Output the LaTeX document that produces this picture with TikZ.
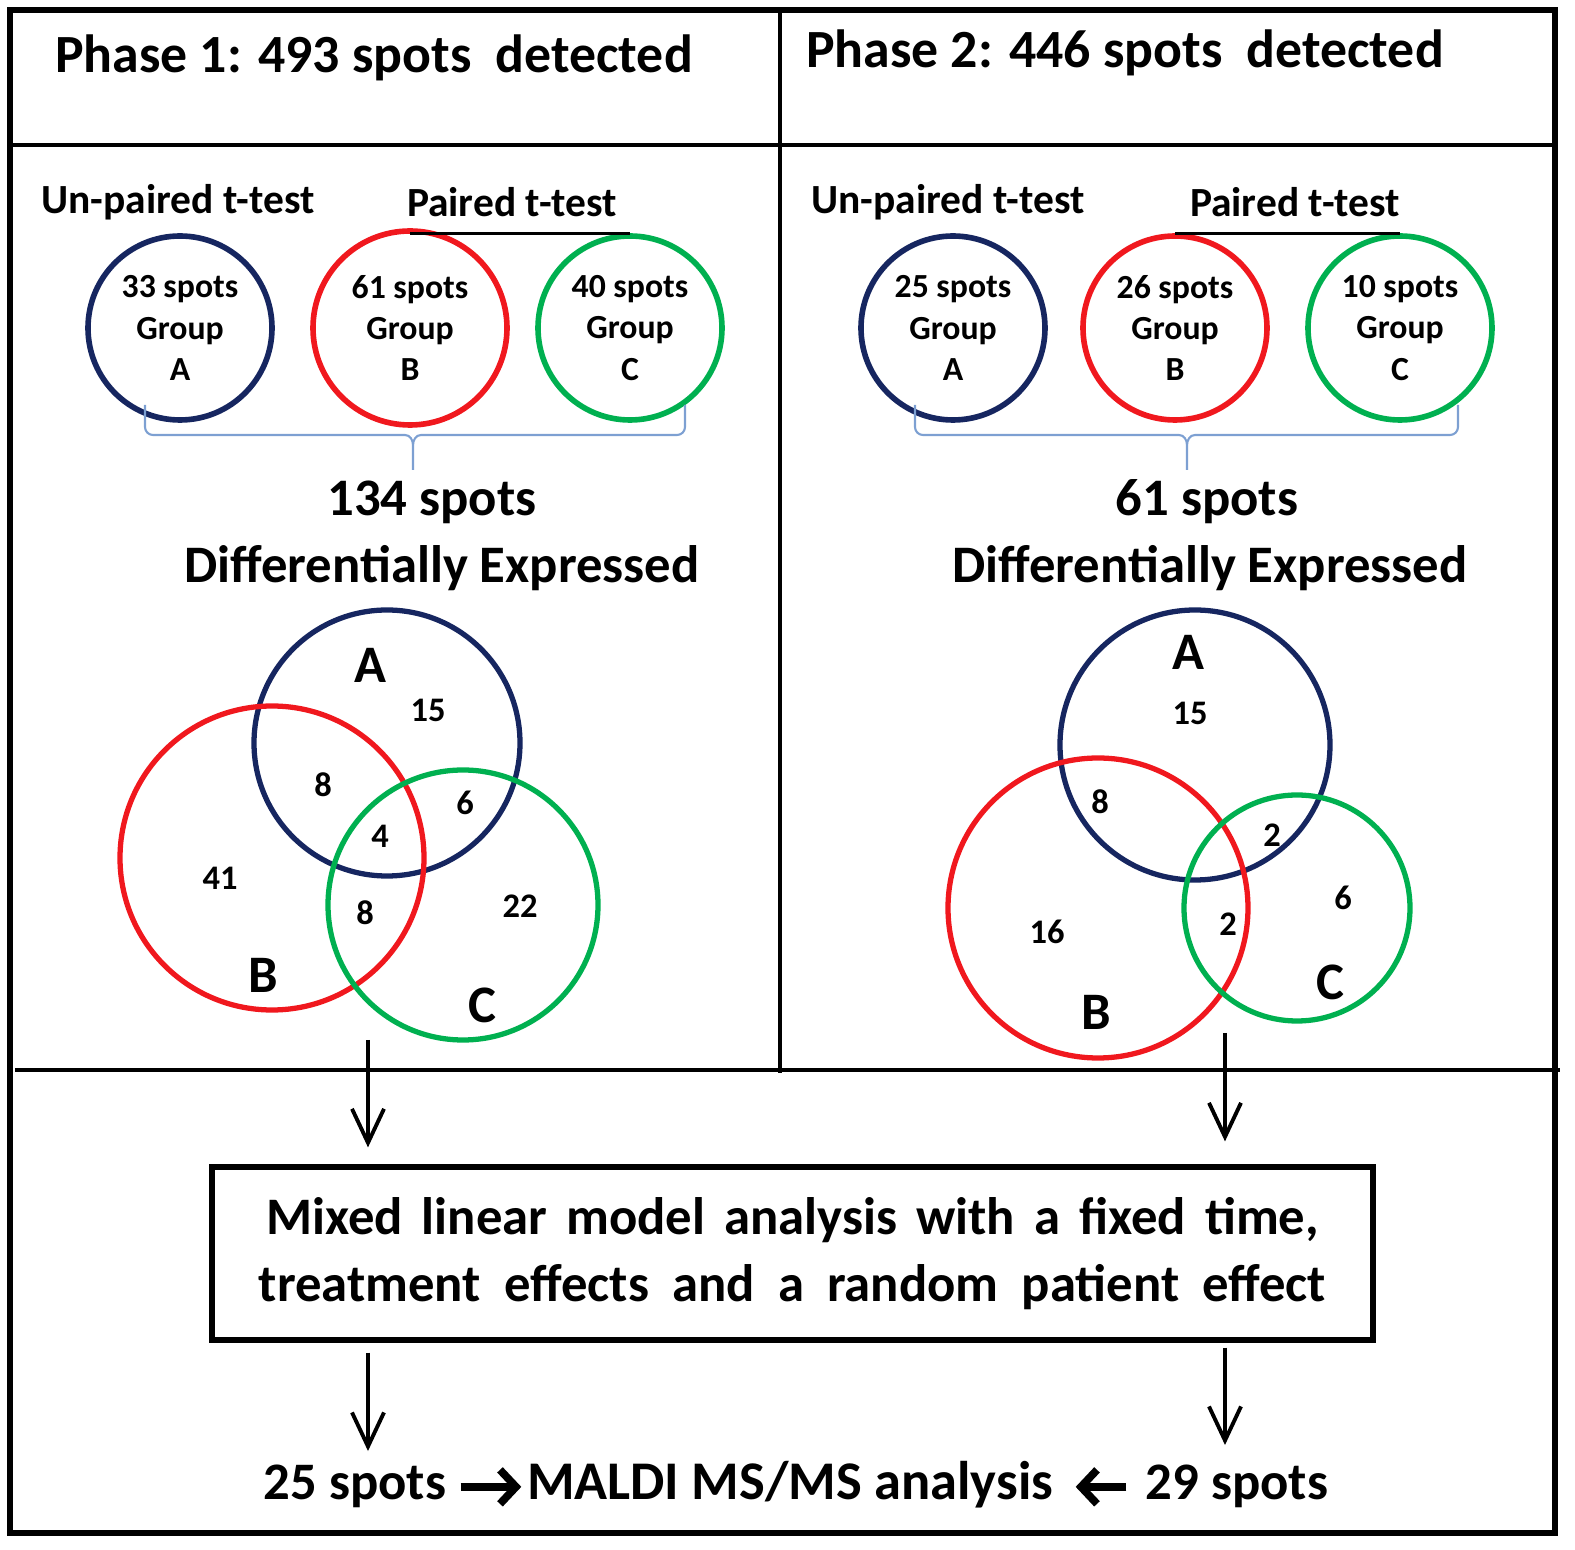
\documentclass[tikz,border=0pt]{standalone}
\usepackage{fontspec}
\setmainfont{Carlito}
\usetikzlibrary{arrows.meta}
\definecolor{navyA}{RGB}{22,38,96}
\definecolor{redB}{RGB}{240,24,30}
\definecolor{greenC}{RGB}{0,176,80}
\definecolor{braceblue}{RGB}{125,160,210}
\newcommand{\wordgap}[1]{\spaceskip=#1\relax}
\tikzset{
  big/.style={font=\fontsize{15}{18}\selectfont\bfseries},
  header/.style={font=\fontsize{15.3}{18}\selectfont\bfseries},
  testlabel/.style={font=\fontsize{11.8}{14}\selectfont\bfseries},
  grpcircle/.style={circle, line width=1.6pt, minimum size=1.84cm, inner sep=0pt,
    align=center, font=\fontsize{9.6}{11.8}\selectfont\bfseries},
  venn/.style={line width=1.5pt},
  num/.style={font=\fontsize{9.8}{12}\selectfont\bfseries},
  setname/.style={font=\fontsize{15}{18}\selectfont\bfseries},
  bracket/.style={braceblue, line width=0.6pt},
  flowarrow/.style={line width=1.1pt, -{Straight Barb[length=3.4mm,width=3.2mm,line width=1.1pt]}},
  textarrow/.style={line width=2.2pt, -{Straight Barb[length=1.6mm,width=3.4mm,line width=2.2pt]}}
}
\begin{document}
\begin{tikzpicture}
  \useasboundingbox (0, 0) rectangle (15.75, 15.49);
  % frame and dividers
  \draw [line width=1.8pt] (0.10, 0.16) rectangle (15.55, 15.39);
  \draw [line width=0.9pt] (7.80, 15.39) -- (7.80, 4.76);
  \draw [line width=0.9pt] (0.10, 14.04) -- (15.55, 14.04);
  \draw [line width=0.9pt] (0.15, 4.79) -- (15.60, 4.79);
  % headers
  \node [header] (head1) at (3.74, 14.91) {Phase 1: 493 spots \ detected};
  \node [header] (head2) at (11.25, 14.96) {Phase 2: 446 spots \ detected};
  % phase 1 tests
  \node [testlabel] (unp1) at (1.78, 13.47) {Un-paired t-test};
  \node [testlabel] (pair1) at (5.12, 13.47) {Paired t-test};
  \node [grpcircle, draw=navyA] (g1a) at (1.80, 12.21) {33 spots\\Group\\A};
  \node [grpcircle, draw=redB, minimum size=1.94cm] (g1b) at (4.10, 12.21) {61 spots\\Group\\B};
  \node [grpcircle, draw=greenC] (g1c) at (6.30, 12.21) {40 spots\\Group\\C};
  \draw [line width=0.9pt] (g1b.north |- g1c.north) -- (g1c.north);
  \draw [bracket] (1.45, 11.44) -- (1.45, 11.22) to[out=-90, in=180] (1.53, 11.14)
    -- (4.05, 11.14) to[out=0, in=90] (4.13, 11.04) -- (4.13, 10.79);
  \draw [bracket] (4.13, 11.04) to[out=90, in=180] (4.21, 11.14) -- (6.77, 11.14)
    to[out=0, in=-90] (6.85, 11.22) -- (6.85, 11.44);
  \node [big] (tot1) at (4.32, 10.47) {134 spots};
  \node [big] (de1) at (4.42, 9.81) {Differentially Expressed};
  % phase 1 venn
  \draw [venn, navyA] (3.87, 8.06) circle [radius=1.33];
  \draw [venn, redB] (2.72, 6.91) circle [radius=1.52];
  \draw [venn, greenC] (4.63, 6.44) circle [radius=1.35];
  \node [setname] (v1A) at (3.70, 8.84) {A};
  \node [setname] (v1B) at (2.63, 5.74) {B};
  \node [setname] (v1C) at (4.82, 5.44) {C};
  \node [num] (v1a) at (4.28, 8.39) {15};
  \node [num] (v1ab) at (3.23, 7.64) {8};
  \node [num] (v1ac) at (4.65, 7.46) {6};
  \node [num] (v1abc) at (3.80, 7.13) {4};
  \node [num] (v1b) at (2.20, 6.71) {41};
  \node [num] (v1bc) at (3.65, 6.36) {8};
  \node [num] (v1c) at (5.20, 6.43) {22};
  % phase 2 tests
  \node [testlabel] (unp2) at (9.48, 13.47) {Un-paired t-test};
  \node [testlabel] (pair2) at (12.95, 13.47) {Paired t-test};
  \node [grpcircle, draw=navyA] (g2a) at (9.53, 12.21) {25 spots\\Group\\A};
  \node [grpcircle, draw=redB] (g2b) at (11.75, 12.21) {26 spots\\Group\\B};
  \node [grpcircle, draw=greenC] (g2c) at (14.00, 12.21) {10 spots\\Group\\C};
  \draw [line width=0.9pt] (g2b.north) -- (g2c.north);
  \draw [bracket] (9.15, 11.44) -- (9.15, 11.22) to[out=-90, in=180] (9.23, 11.14)
    -- (11.79, 11.14) to[out=0, in=90] (11.87, 11.04) -- (11.87, 10.79);
  \draw [bracket] (11.87, 11.04) to[out=90, in=180] (11.95, 11.14) -- (14.50, 11.14)
    to[out=0, in=-90] (14.58, 11.22) -- (14.58, 11.44);
  \node [big] (tot2) at (12.07, 10.47) {61 spots};
  \node [big] (de2) at (12.10, 9.81) {Differentially Expressed};
  % phase 2 venn
  \draw [venn, navyA] (11.95, 8.04) circle [radius=1.35];
  \draw [venn, redB] (10.98, 6.41) circle [radius=1.50];
  \draw [venn, greenC] (12.97, 6.41) circle [radius=1.13];
  \node [setname] (v2A) at (11.88, 8.97) {A};
  \node [setname] (v2B) at (10.96, 5.37) {B};
  \node [setname] (v2C) at (13.30, 5.67) {C};
  \node [num] (v2a) at (11.90, 8.36) {15};
  \node [num] (v2ab) at (11.00, 7.47) {8};
  \node [num] (v2ac) at (12.72, 7.14) {2};
  \node [num] (v2c) at (13.43, 6.51) {6};
  \node [num] (v2b) at (10.47, 6.17) {16};
  \node [num] (v2bc) at (12.28, 6.25) {2};
  % model box
  \node [draw, line width=1.5pt, minimum width=11.61cm, minimum height=1.73cm, align=center,
    font=\fontsize{15}{19}\selectfont\bfseries] (mlm) at (7.925, 2.955)
    {\wordgap{0.36em}Mixed linear model analysis with a fixed time,\\
     \wordgap{0.44em}treatment effects and a random patient effect};
  \coordinate (out1) at (3.68, 5.09);
  \coordinate (out2) at (12.25, 5.16);
  \draw [flowarrow, shorten >=0.17cm] (out1) -- (out1 |- mlm.north);
  \draw [flowarrow, shorten >=0.23cm] (out2) -- (out2 |- mlm.north);
  % results
  \node [big, anchor=base] (s25) at (3.55, 0.49) {25 spots};
  \node [big, anchor=base, font=\fontsize{15.5}{18}\selectfont\bfseries, inner xsep=0.05cm]
    (maldi) at (7.90, 0.49) {MALDI MS/MS analysis};
  \node [big, anchor=base] (s29) at (12.37, 0.49) {29 spots};
  \draw [flowarrow, shorten <=0.10cm, shorten >=0.02cm] (out1 |- mlm.south) -- (out1 |- s25.north);
  \draw [flowarrow, shorten <=0.05cm, shorten >=0.08cm] (out2 |- mlm.south) -- (out2 |- s29.north);
  \draw [textarrow, shorten <=0.02cm] (s25.east) -- (maldi.west |- s25.east);
  \draw [textarrow, shorten <=0.07cm, shorten >=0.17cm] (s29.west) -- (maldi.east |- s29.west);
\end{tikzpicture}
\end{document}
